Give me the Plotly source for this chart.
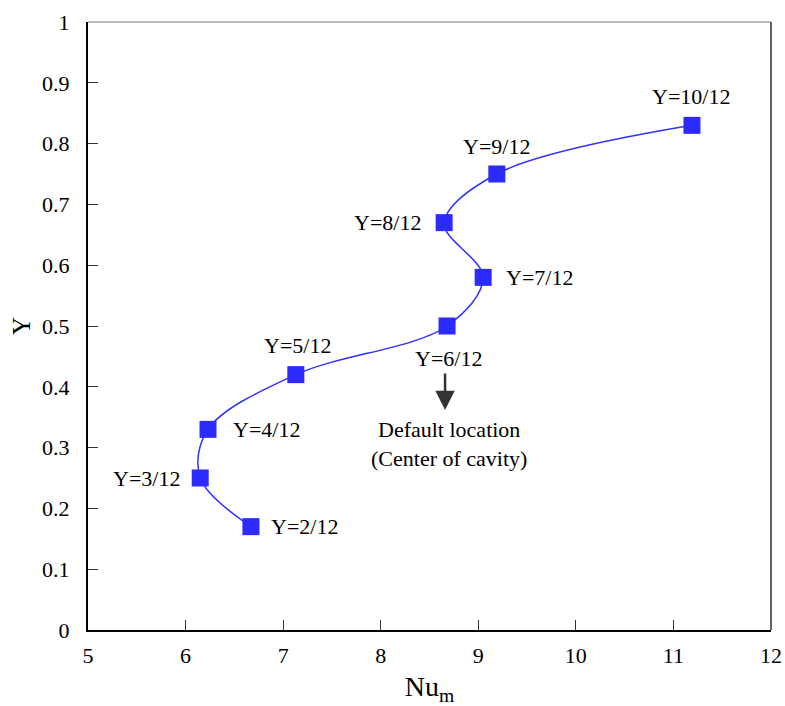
import plotly.graph_objects as go

# Mean Nusselt number against heater elevation Y
nu_m = [6.67, 6.15, 6.23, 7.13, 8.68, 9.05, 8.65, 9.19, 11.19]
y_pos = [0.17, 0.25, 0.33, 0.42, 0.50, 0.58, 0.67, 0.75, 0.83]
point_labels = ["Y=2/12", "Y=3/12", "Y=4/12", "Y=5/12", "Y=6/12",
                "Y=7/12", "Y=8/12", "Y=9/12", "Y=10/12"]
# pixel offsets of each label from its marker
label_dx = [54, -54, 58, 2, 1, 56, -57, 0, -1]
label_dy = [0, 0, 0, 29, -32, 0, 0, 28, 29]

x_ticks = [5, 6, 7, 8, 9, 10, 11, 12]
y_ticks = [0, 0.1, 0.2, 0.3, 0.4, 0.5, 0.6, 0.7, 0.8, 0.9, 1]

SERIF = "Times New Roman, Liberation Serif, Tinos, serif"

fig = go.Figure()
fig.add_trace(go.Scatter(
    x=nu_m, y=y_pos,
    mode="lines+markers",
    line=dict(color="#3030ff", width=1.5, shape="spline", smoothing=1.0),
    marker=dict(symbol="square", size=17, color="#2b2bff", line=dict(width=0)),
    showlegend=False,
))

for xv, yv, txt, dx, dy in zip(nu_m, y_pos, point_labels, label_dx, label_dy):
    fig.add_annotation(x=xv, y=yv, text=txt, showarrow=False,
                       xshift=dx, yshift=dy,
                       font=dict(family=SERIF, size=22, color="black"))

# default heater location: arrow and note below the Y=6/12 point
i_def = point_labels.index("Y=6/12")
fig.add_annotation(x=nu_m[i_def], y=y_pos[i_def], text="",
                   showarrow=True, arrowhead=2, arrowsize=1.55, arrowwidth=2.5,
                   arrowcolor="#333333", ax=0, ay=-38, standoff=0,
                   xshift=-2, yshift=-84)
fig.add_annotation(x=nu_m[i_def], y=y_pos[i_def],
                   text="Default location<br>(Center of cavity)",
                   showarrow=False, xshift=2, yshift=-118,
                   font=dict(family=SERIF, size=22, color="black"))

# frame: thin top and right edges
fig.add_shape(type="line", xref="paper", yref="paper", x0=0, x1=1, y0=1, y1=1,
              line=dict(color="#777777", width=1.2))
fig.add_shape(type="line", xref="paper", yref="paper", x0=1, x1=1, y0=0, y1=1,
              line=dict(color="#222222", width=1.4))

axis_common = dict(
    showgrid=False, zeroline=False, automargin=False,
    showline=True, linecolor="black", linewidth=2,
    ticks="inside", ticklen=10, tickwidth=1, tickcolor="#333333",
    tickfont=dict(family=SERIF, size=22, color="black"),
)

fig.update_xaxes(range=[5, 12], tickvals=x_ticks,
                 ticktext=[str(v) for v in x_ticks],
                 title=dict(text="Nu<sub>m</sub>", standoff=10,
                            font=dict(family=SERIF, size=28, color="black")),
                 ticklabelstandoff=5,
                 **axis_common)
fig.update_yaxes(range=[0, 1], tickvals=y_ticks,
                 ticktext=[f"{v:g}" for v in y_ticks],
                 title=dict(text="Y", standoff=4,
                            font=dict(family=SERIF, size=25, color="black")),
                 ticklabelstandoff=12,
                 **axis_common)

fig.update_layout(
    width=785, height=706,
    margin=dict(l=88, r=14, t=22, b=76),
    plot_bgcolor="white", paper_bgcolor="white",
)

fig.write_html("out.html")
